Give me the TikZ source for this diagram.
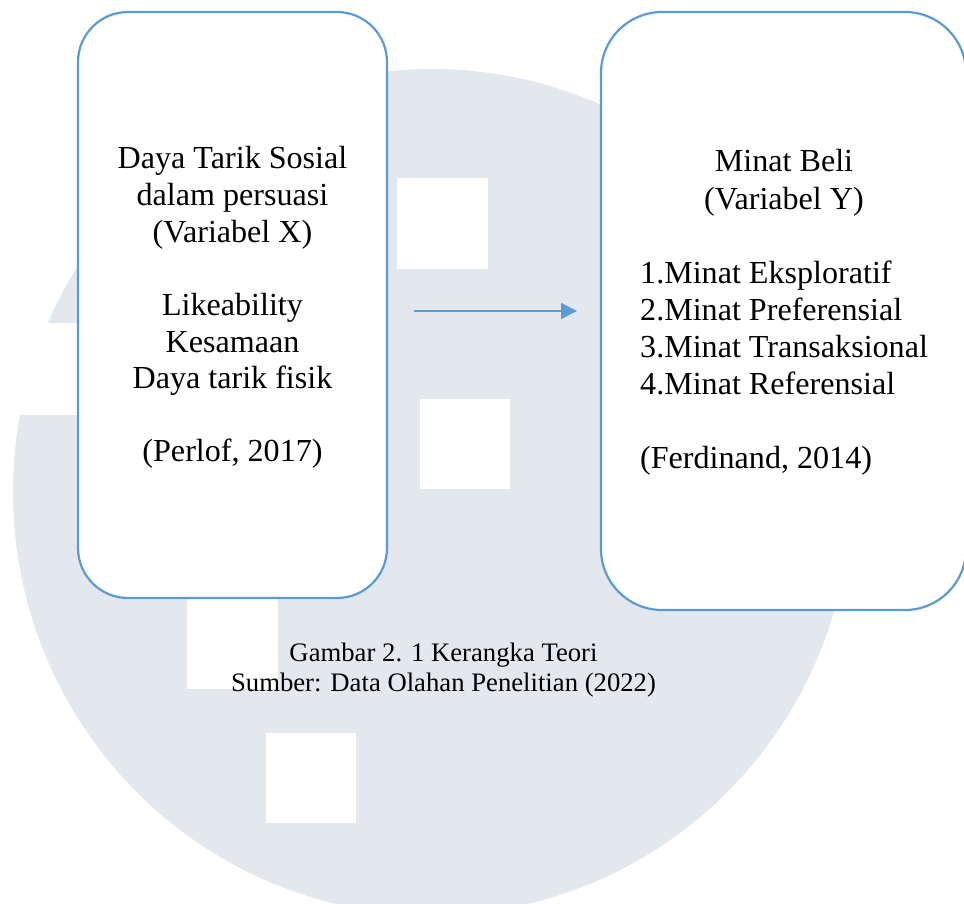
\documentclass[tikz,border=0pt]{standalone}
\usepackage{fontspec}
\setmainfont{Liberation Serif}
\usetikzlibrary{arrows.meta}
\definecolor{logogray}{RGB}{227,232,239}
\definecolor{boxblue}{RGB}{91,155,213}
\tikzset{
  framebox/.style={draw=boxblue, fill=white, line width=2.2pt, inner sep=0pt, rectangle},
  bodytext/.style={anchor=base, inner sep=0pt, font=\fontsize{32.1}{36.6}\selectfont},
  listtext/.style={bodytext, anchor=base west},
  captext/.style={anchor=base, inner sep=0pt, font=\fontsize{26.7}{30}\selectfont},
  flow/.style={draw=boxblue, line width=1.3pt, -{Triangle[length=16pt,width=16pt]}},
  patch/.style={fill=white, draw=none}
}
\begin{document}
\begin{tikzpicture}[x=1pt,y=-1pt]
\useasboundingbox (0,0) rectangle (964,904);
% watermark: grey disc with white cut-outs
\fill[logogray] (432,492) ellipse [x radius=419, y radius=423];
\fill[patch] (0,323) rectangle (100,415);
\fill[patch] (397,178) rectangle (488,269);
\fill[patch] (420,399) rectangle (510,489);
\fill[patch] (187,599) rectangle (278,689);
\fill[patch] (266,733) rectangle (356,823);
% the two frames
\node[framebox, rounded corners=50pt, minimum width=309pt, minimum height=586pt] (varx) at (232.5,305) {};
\node[framebox, rounded corners=61pt, minimum width=365pt, minimum height=598pt] (vary) at (783.5,311) {};
% arrow between the frames
\coordinate (arrS) at (414,311);
\coordinate (arrE) at (577,311);
\draw[flow] (arrS) -- (arrE);
% left frame text
\node[bodytext] (x1) at (232.5,169) {Daya Tarik Sosial};
\node[bodytext] (x2) at (232.5,205.6) {dalam persuasi};
\node[bodytext] (x3) at (232.5,242.2) {(Variabel X)};
\node[bodytext] (x4) at (232.5,315.4) {Likeability};
\node[bodytext] (x5) at (232.5,352) {Kesamaan};
\node[bodytext] (x6) at (232.5,388.6) {Daya tarik fisik};
\node[bodytext] (x7) at (232.5,461.8) {(Perlof, 2017)};
% right frame text
\node[bodytext] (y1) at (784,172) {Minat Beli};
\node[bodytext] (y2) at (784,209.1) {(Variabel Y)};
\node[listtext] (y3) at (640,283.3) {1.Minat Eksploratif};
\node[listtext] (y4) at (640,320.4) {2.Minat Preferensial};
\node[listtext] (y5) at (640,357.5) {3.Minat Transaksional};
\node[listtext] (y6) at (640,394.6) {4.Minat Referensial};
\node[listtext] (y7) at (640,468.8) {(Ferdinand, 2014)};
% caption
\node[captext] (cap1) at (443.5,661) {Gambar 2. 1 Kerangka Teori};
\node[captext] (cap2) at (443.5,691) {Sumber: Data Olahan Penelitian (2022)};
\end{tikzpicture}
\end{document}
